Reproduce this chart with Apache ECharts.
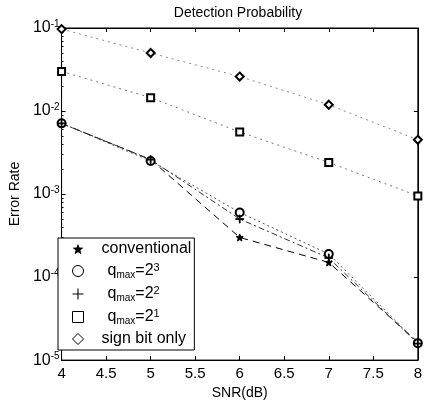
<!DOCTYPE html>
<html><head><meta charset="utf-8">
<script src="https://cdn.jsdelivr.net/npm/echarts@6/dist/echarts.min.js"></script>
<style>html,body{margin:0;padding:0;background:#fff}#c{width:425px;height:405px}</style>
</head><body><div id="c"></div>
<script>
const xData = [4, 5, 6, 7, 8];
const conventional = [0.0071, 0.0026, 0.0003, 0.00015, 0.0000165];
const qmax8 = [0.0071, 0.0025, 0.0006, 0.00019, 0.000016];
const qmax4 = [0.0071, 0.0026, 0.0005, 0.00017, 0.0000158];
const qmax2 = [0.03, 0.0145, 0.0056, 0.0024, 0.00095];
const signBit = [0.097, 0.05, 0.026, 0.0119, 0.0045];
const seriesNames = ['conventional', 'q_max=2^3', 'q_max=2^2', 'q_max=2^1', 'sign bit only'];
const yTicks = [1e-5, 1e-4, 1e-3, 1e-2, 1e-1];

const starPath = 'path://M0,-10 L2.6,-3.6 L9.5,-3.1 L4.2,1.4 L5.9,8.1 L0,4.5 L-5.9,8.1 L-4.2,1.4 L-9.5,-3.1 L-2.6,-3.6 Z';
const plusPath = 'path://M-1,-10 L1,-10 L1,-1 L10,-1 L10,1 L1,1 L1,10 L-1,10 L-1,1 L-10,1 L-10,-1 L-1,-1 Z';

const pair = (arr) => xData.map((x, i) => [x, arr[i]]);
const FONT = 'Liberation Sans, Arial, sans-serif';

const legendRich = {
  t: {fontSize: 16, fontFamily: FONT, color: '#000', padding: [0, 0, 0, 13], lineHeight: 18},
  q: {fontSize: 16, fontFamily: FONT, color: '#000', padding: [0, 0, 0, 19], lineHeight: 18},
  sub: {fontSize: 10, fontFamily: FONT, color: '#000', verticalAlign: 'bottom', padding: [7, 0, 0, 0], lineHeight: 18},
  e: {fontSize: 16, fontFamily: FONT, color: '#000', lineHeight: 18},
  sup: {fontSize: 11, fontFamily: FONT, color: '#000', verticalAlign: 'top', padding: [0, 0, 7, 0], lineHeight: 18}
};
function legendFmt(name) {
  if (name.indexOf('q_max') === 0) {
    const p = name.split('^')[1];
    return '{q|q}{sub|max}{e|=2}{sup|' + p + '}';
  }
  return '{t|' + name + '}';
}

const mk = (name, data, symbol, size, lineType, color) => ({
  name, type: 'line', data: pair(data), symbol, symbolSize: size,
  showSymbol: true, showAllSymbol: true,
  lineStyle: {color, width: 1, type: lineType},
  itemStyle: {color: '#000', borderColor: '#000', borderWidth: 1},
  emphasis: {disabled: true}, animation: false
});

const chart = echarts.init(document.getElementById('c'), null, {renderer: 'canvas'});
chart.setOption({
  backgroundColor: '#fff',
  animation: false,
  title: {text: 'Detection Probability', left: 233, textAlign: 'center', top: 1,
    textStyle: {fontSize: 14, fontWeight: 'normal', fontFamily: FONT, color: '#000'}},
  grid: {left: 48, right: 7, top: 28, bottom: 44, show: true, borderColor: '#000', borderWidth: 1},
  legend: {
    orient: 'vertical', left: 58, top: 238,
    data: [
      {name: seriesNames[0], icon: starPath, itemStyle: {color: '#000', borderWidth: 0}},
      {name: seriesNames[1], icon: 'circle', itemStyle: {color: '#fff', borderColor: '#000', borderWidth: 1}},
      {name: seriesNames[2], icon: plusPath, itemStyle: {color: '#000', borderWidth: 0}},
      {name: seriesNames[3], icon: 'rect', itemStyle: {color: '#fff', borderColor: '#000', borderWidth: 1}},
      {name: seriesNames[4], icon: 'diamond', itemStyle: {color: '#fff', borderColor: '#000', borderWidth: 1}}
    ],
    itemWidth: 11, itemHeight: 11, itemGap: 5,
    padding: [3, 3, 3, 14],
    backgroundColor: '#fff', borderColor: '#000', borderWidth: 1,
    formatter: legendFmt,
    textStyle: {rich: legendRich, fontSize: 16, fontFamily: FONT, color: '#000'},
    selectedMode: false
  },
  xAxis: [{
    type: 'value', min: 4, max: 8, interval: 0.5,
    name: 'SNR(dB)', nameLocation: 'middle', nameGap: 22,
    nameTextStyle: {fontSize: 14, fontFamily: FONT, color: '#000'},
    axisLine: {show: true, lineStyle: {color: '#000'}},
    axisTick: {inside: true, length: 4, lineStyle: {color: '#000'}},
    axisLabel: {fontSize: 15, fontFamily: FONT, color: '#000', margin: 6,
      formatter: v => String(v)},
    splitLine: {show: false}
  }, {
    type: 'value', min: 4, max: 8, interval: 0.5, position: 'top',
    axisLine: {show: true, lineStyle: {color: '#000'}},
    axisTick: {inside: true, length: 4, lineStyle: {color: '#000'}},
    axisLabel: {show: false}, splitLine: {show: false}
  }],
  yAxis: [{
    type: 'log', logBase: 10, min: yTicks[0], max: yTicks[yTicks.length - 1],
    name: 'Error Rate', nameLocation: 'middle', nameGap: 29,
    nameTextStyle: {fontSize: 14, fontFamily: FONT, color: '#000'},
    axisLine: {show: true, lineStyle: {color: '#000'}},
    axisTick: {inside: true, length: 4, lineStyle: {color: '#000'}},
    minorTick: {show: true, splitNumber: 9, length: 2, lineStyle: {color: '#000'}},
    axisLabel: {
      margin: 2,
      formatter: v => '{b|10}{s|' + Math.round(Math.log10(v)) + '}',
      rich: {
        b: {fontSize: 16, fontFamily: FONT, color: '#000'},
        s: {fontSize: 10, fontFamily: FONT, color: '#000', verticalAlign: 'top', padding: [0, 0, 8, 0]}
      }
    },
    splitLine: {show: false}
  }, {
    type: 'log', logBase: 10, min: yTicks[0], max: yTicks[yTicks.length - 1], position: 'right',
    axisLine: {show: true, lineStyle: {color: '#000'}},
    axisTick: {inside: true, length: 4, lineStyle: {color: '#000'}},
    axisLabel: {show: false}, splitLine: {show: false}
  }],
  series: [
    mk(seriesNames[0], conventional, starPath, 7, [7, 5], '#000'),
    mk(seriesNames[1], qmax8, 'emptyCircle', 8, [2, 3], '#555'),
    mk(seriesNames[2], qmax4, plusPath, 8, [6, 3, 2, 3], '#333'),
    mk(seriesNames[3], qmax2, 'emptyRect', 7, [2, 4], '#777'),
    mk(seriesNames[4], signBit, 'emptyDiamond', 8, [2, 4], '#888')
  ]
});
</script></body></html>
